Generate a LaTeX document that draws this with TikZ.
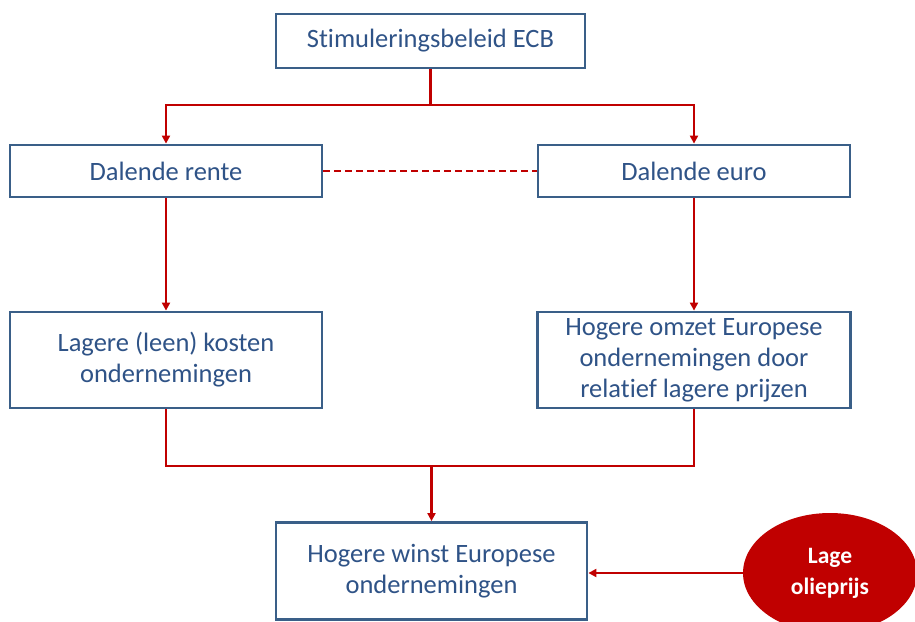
\documentclass[tikz,border=0pt]{standalone}
\usepackage{fontspec}
\setmainfont{Carlito}[Ligatures=NoCommon]
\usetikzlibrary{arrows.meta,shapes.geometric}
\definecolor{boxblue}{HTML}{3A5F88}
\definecolor{txtblue}{HTML}{2F5387}
\definecolor{ecbred}{HTML}{C00000}
\begin{document}
\begin{tikzpicture}[x=1pt,y=-1pt,
  box/.style={draw=boxblue,line width=2.8pt,fill=white,inner sep=0pt,align=center,
    text=txtblue,font=\fontsize{26.5}{31}\selectfont},
  link/.style={draw=ecbred,line width=2.3pt},
  arr/.style={link,-{Triangle[length=8pt,width=8pt]}}]
\useasboundingbox (0,0) rectangle (915,621);
\node[box,minimum width=309pt,minimum height=54pt] (top) at (430.5,41) {Stimuleringsbeleid ECB};
\node[box,minimum width=312pt,minimum height=52pt] (rente) at (166,171) {Dalende rente};
\node[box,minimum width=312pt,minimum height=52pt] (euro) at (694,171) {Dalende euro};
\node[box,minimum width=312pt,minimum height=96pt] (lagere) at (166,360) {Lagere (leen) kosten\\ondernemingen};
\node[box,minimum width=313pt,minimum height=96pt] (omzet) at (694,360) {Hogere omzet Europese\\ondernemingen door\\relatief lagere prijzen};
\node[box,minimum width=311pt,minimum height=97pt] (winst) at (431.5,571) {Hogere winst Europese\\ondernemingen};
\node[ellipse,fill=ecbred,inner sep=0pt,minimum width=174pt,minimum height=120pt,align=center,
  text=white,font=\bfseries\fontsize{23.5}{31}\selectfont] (olie) at (830,573) {Lage\\olieprijs};
\coordinate (j1) at (430.5,105);
\coordinate (j2) at (431.5,466);
\draw[link] (top.south) -- (j1);
\draw[arr] (j1) -| (rente.north);
\draw[arr] (j1) -| (euro.north);
\draw[link,dashed,dash pattern=on 7pt off 4pt] (rente.east) -- (euro.west);
\draw[arr] (rente.south) -- (lagere.north);
\draw[arr] (euro.south) -- (omzet.north);
\draw[link] (lagere.south) |- (j2) -| (omzet.south);
\draw[arr] (j2) -- (winst.north);
\draw[arr] (olie.west) -- (olie.west -| winst.east);
\end{tikzpicture}
\end{document}
